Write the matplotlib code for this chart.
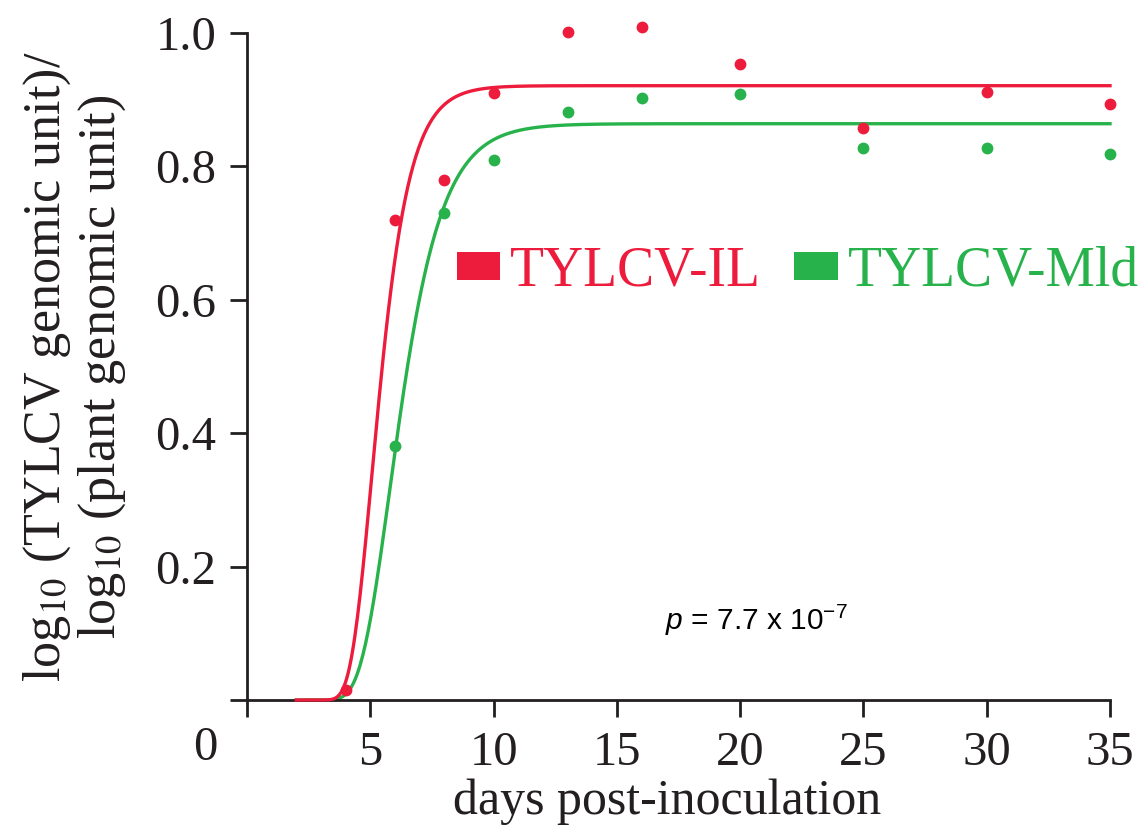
import numpy as np
import matplotlib
matplotlib.use("Agg")
import matplotlib.pyplot as plt
from matplotlib.patches import Patch

# ---- data ----
days = [4, 6, 8, 10, 13, 16, 20, 25, 30, 35]
il_values = [0.015, 0.72, 0.78, 0.91, 1.001, 1.009, 0.954, 0.858, 0.912, 0.894]
mld_days = [6, 8, 10, 13, 16, 20, 25, 30, 35]
mld_values = [0.381, 0.73, 0.81, 0.882, 0.903, 0.909, 0.828, 0.828, 0.819]

# Gompertz fit parameters (asymptote, ln b, rate)
il_fit = (0.921, 5.98, 1.18)
mld_fit = (0.864, 4.93, 0.85)
fit_range = (2, 35)

xticks = [0, 5, 10, 15, 20, 25, 30, 35]
yticks = [0, 0.2, 0.4, 0.6, 0.8, 1.0]
series_labels = ["TYLCV-IL", "TYLCV-Mld"]

RED = "#ed1c3c"
GREEN = "#27b24b"
INK = "#231f20"

plt.rcParams["font.family"] = ["Liberation Serif", "DejaVu Serif"]
plt.rcParams["mathtext.fontset"] = "custom"
plt.rcParams["mathtext.rm"] = "Liberation Sans"
plt.rcParams["mathtext.it"] = "Liberation Sans:italic"

fig = plt.figure(figsize=(11.4, 8.34), dpi=100)
ax = fig.add_axes([247/1140, 1 - 700/834, (1110-247)/1140, (700-33)/834])

def gompertz(x, p):
    a, lnb, k = p
    return a * np.exp(-np.exp(lnb - k * x))

xs = np.linspace(fit_range[0], fit_range[1], 600)
ax.plot(xs, gompertz(xs, il_fit), color=RED, lw=2.4, zorder=3, clip_on=False)
ax.plot(xs, gompertz(xs, mld_fit), color=GREEN, lw=2.4, zorder=2, clip_on=False)
ax.plot(days, il_values, "o", color=RED, ms=8.5, mec="none", zorder=4, clip_on=False)
ax.plot(mld_days, mld_values, "o", color=GREEN, ms=8.5, mec="none", zorder=4, clip_on=False)

ax.set_xlim(0, 35)
ax.set_ylim(0, 1.0)
for s in ["top", "right"]:
    ax.spines[s].set_visible(False)
for s in ["left", "bottom"]:
    ax.spines[s].set_linewidth(2.0)
    ax.spines[s].set_color(INK)

ax.set_xticks(xticks)
ax.set_xticklabels([""] + [str(t) for t in xticks[1:]])
ax.set_yticks(yticks)
ax.set_yticklabels([""] + ["%.1f" % t for t in yticks[1:]])
ax.tick_params(axis="both", direction="out", length=12, width=2.0, color=INK,
               labelsize=35, labelcolor=INK)
ax.tick_params(axis="x", pad=10)
ax.tick_params(axis="y", pad=10)

fig.text(205/1140, 1 - 748/834, "0", fontsize=35, color=INK, ha="center", va="center")

ax.set_xlabel("days post-inoculation", fontsize=36, color=INK)
ax.xaxis.set_label_coords(0.487, -0.118)
ax.set_ylabel("log$_{10}$ (TYLCV genomic unit)/\nlog$_{10}$ (plant genomic unit)",
              fontsize=37.5, color=INK, linespacing=1.08, labelpad=20,
              math_fontfamily="stix")

handles = [Patch(facecolor=RED, edgecolor="none"), Patch(facecolor=GREEN, edgecolor="none")]
leg = ax.legend(handles, series_labels, loc="center left",
                bbox_to_anchor=(0.243, 0.642), ncol=2, frameon=False,
                fontsize=40, handlelength=0.78, handleheight=0.38,
                handletextpad=0.18, columnspacing=0.6, borderaxespad=0,
                borderpad=0)
for txt, c in zip(leg.get_texts(), [RED, GREEN]):
    txt.set_color(c)

ax.text(0.59, 0.12, "$p$ = 7.7 x 10$^{-7}$", transform=ax.transAxes,
        fontsize=21.5, family=["Liberation Sans", "DejaVu Sans"], ha="center", va="center",
        color="black")

fig.savefig("out.png", dpi=100)
